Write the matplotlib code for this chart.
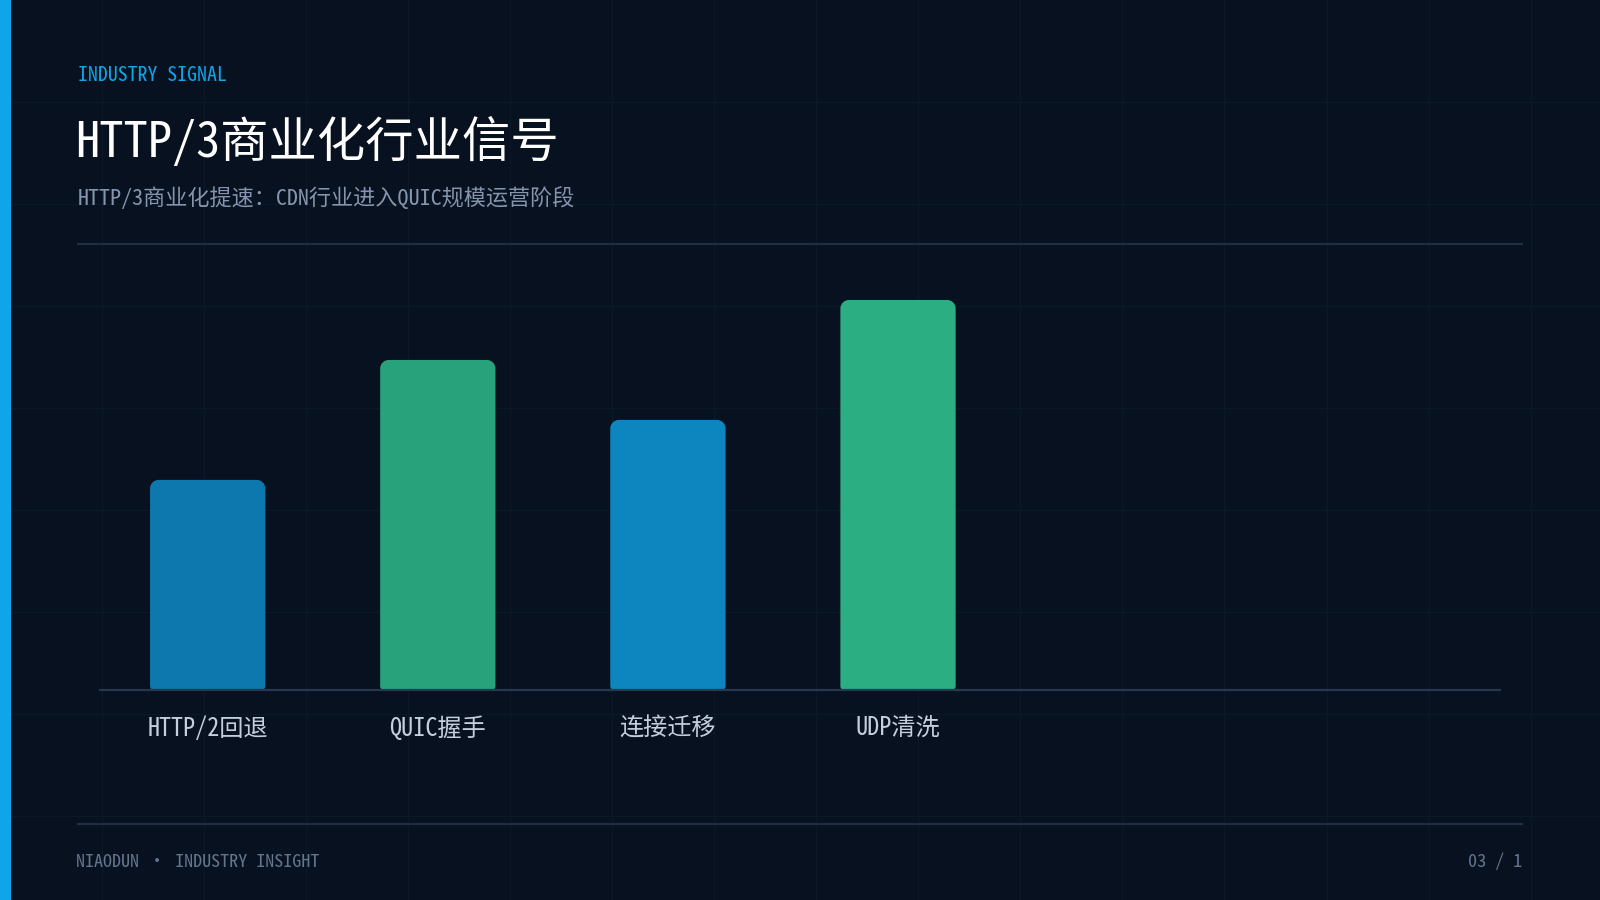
import matplotlib
matplotlib.use("Agg")
import matplotlib.pyplot as plt
from matplotlib.patches import PathPatch, Rectangle
from matplotlib.path import Path

# ---------------- data ----------------
categories = ["HTTP/2回退", "QUIC握手", "连接迁移", "UDP清洗"]
values = [35, 55, 45, 65]
bar_colors = ["#0c78ad", "#28a27a", "#0d85be", "#2aae82"]

kicker = "INDUSTRY SIGNAL"
title = "HTTP/3商业化行业信号"
subtitle = "HTTP/3商业化提速：CDN行业进入QUIC规模运营阶段"
footer_left = "NIAODUN · INDUSTRY INSIGHT"
footer_right = "03 / 1"

# ---------------- fonts ----------------
FAM = ["Noto Sans Mono CJK SC", "Noto Sans CJK SC", "DejaVu Sans"]
plt.rcParams["font.family"] = FAM

BG = "#07111f"
W, H = 1568.0, 882.0  # reference pixel space

fig = plt.figure(figsize=(16, 9), dpi=100, facecolor=BG)

# background axes in reference pixel coords
bg = fig.add_axes([0, 0, 1, 1])
bg.set_xlim(0, W)
bg.set_ylim(H, 0)
bg.axis("off")
bg.set_facecolor(BG)
for gx in range(100, int(W), 100):
    bg.plot([gx, gx], [0, H], color="#0b1828", lw=1.0, zorder=0)
for gy in range(100, int(H), 100):
    bg.plot([0, W], [gy, gy], color="#0b1828", lw=1.0, zorder=0)

# accent bar
bg.add_patch(Rectangle((0, 0), 11, H, color="#0ea5e9", lw=0, zorder=2))

# header / footer rules
bg.plot([75, 1493], [239, 239], color="#1f2e47", lw=1.6, zorder=2, solid_capstyle="butt")
bg.plot([75, 1493], [808, 808], color="#1f2e47", lw=1.6, zorder=2, solid_capstyle="butt")

bg.text(76, 74, kicker, color="#0ea5e9", fontsize=14.3, va="center", ha="left")
bg.text(74, 139, title, color="#ffffff", fontsize=34.8, va="center", ha="left")
bg.text(76, 195, subtitle, color="#8495ad", fontsize=15.9, va="center", ha="left")
bg.text(74, 845, footer_left, color="#64758e", fontsize=13, va="center", ha="left")
bg.text(1492, 845, footer_right, color="#64758e", fontsize=13, va="center", ha="right")

# ---------------- chart axes ----------------
x0, x1 = 98, 1470
base_y, top_y = 676, 264.6
ax = fig.add_axes([x0 / W, 1 - base_y / H, (x1 - x0) / W, (base_y - top_y) / H])
ax.set_facecolor("none")
ymax = 70
xlim = (-0.468, 5.616)
ax.set_xlim(*xlim)
ax.set_ylim(0, ymax)
for s in ["top", "right", "left"]:
    ax.spines[s].set_visible(False)
ax.spines["bottom"].set_color("#26374f")
ax.spines["bottom"].set_linewidth(1.6)
ax.spines["bottom"].set_zorder(4)
ax.set_yticks([])
xs = list(range(len(categories)))
ax.set_xticks(xs)
ax.set_xticklabels(categories, color="#c5cfdc", fontsize=17.4, fontfamily=FAM)
ax.tick_params(axis="x", length=0, pad=19)

bars = ax.bar(xs, values, width=0.501, color=bar_colors)

# rounded corners (top radius larger than bottom radius)
ax_w_px = (x1 - x0) / W * 1600
ax_h_px = (base_y - top_y) / H * 900
dx = (xlim[1] - xlim[0]) / ax_w_px
dy = ymax / ax_h_px
K = 0.5523


def rounded_path(x, y, w, h, rt, rb):
    tx, ty = rt * dx, rt * dy
    bx, by = rb * dx, rb * dy
    v = [
        (x + bx, y),
        (x + w - bx, y),
        (x + w - bx + K * bx, y), (x + w, y + by - K * by), (x + w, y + by),
        (x + w, y + h - ty),
        (x + w, y + h - ty + K * ty), (x + w - tx + K * tx, y + h), (x + w - tx, y + h),
        (x + tx, y + h),
        (x + tx - K * tx, y + h), (x, y + h - ty + K * ty), (x, y + h - ty),
        (x, y + by),
        (x, y + by - K * by), (x + bx - K * bx, y), (x + bx, y),
        (x + bx, y),
    ]
    c = [Path.MOVETO, Path.LINETO,
         Path.CURVE4, Path.CURVE4, Path.CURVE4,
         Path.LINETO,
         Path.CURVE4, Path.CURVE4, Path.CURVE4,
         Path.LINETO,
         Path.CURVE4, Path.CURVE4, Path.CURVE4,
         Path.LINETO,
         Path.CURVE4, Path.CURVE4, Path.CURVE4,
         Path.CLOSEPOLY]
    return Path(v, c)


for b in bars:
    b.set_visible(False)
    p = rounded_path(b.get_x(), b.get_y(), b.get_width(), b.get_height(), 8.5, 3.5)
    ax.add_patch(PathPatch(p, fc=b.get_facecolor(), ec="none", zorder=3))

fig.savefig("out.png", dpi=100, facecolor=BG)
